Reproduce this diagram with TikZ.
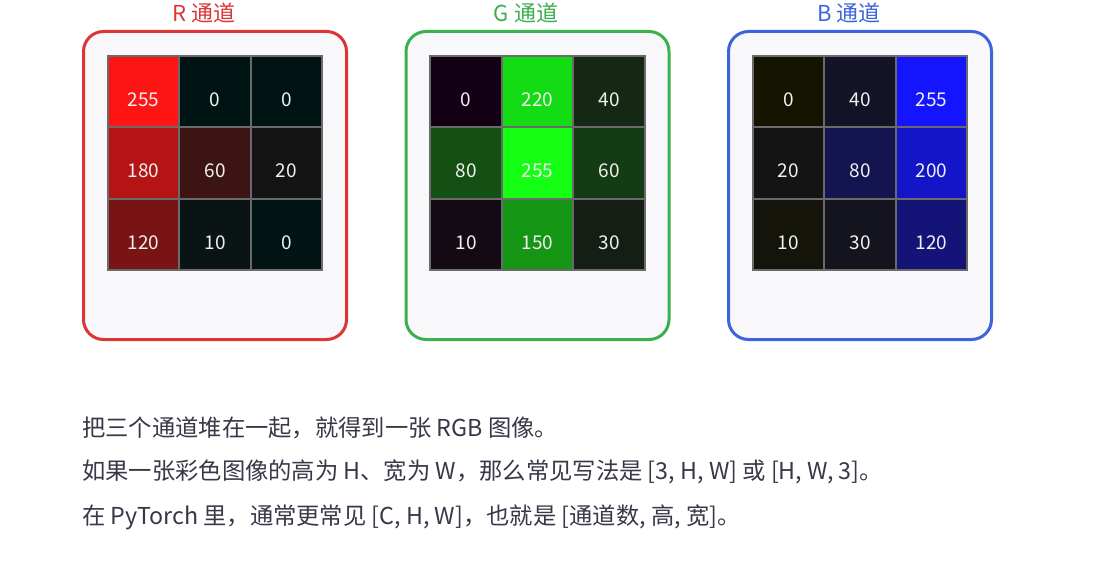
\documentclass[tikz,border=0pt]{standalone}
\usepackage{fontspec}
\setmainfont{Noto Sans CJK SC}
\usepackage{xcolor}
\usepackage{tikz}
\usetikzlibrary{positioning}
\definecolor{rline}{HTML}{DC3535}
\definecolor{gline}{HTML}{3CAF4E}
\definecolor{bline}{HTML}{3C64DC}
\definecolor{panelbg}{HTML}{F8F8FB}
\definecolor{gridline}{HTML}{6A6A6A}
\definecolor{bodytext}{HTML}{383848}
\tikzset{
  panel/.style={rectangle, rounded corners=20pt, line width=3pt, fill=panelbg,
                minimum width=263pt, minimum height=308pt},
  ttl/.style={font=\fontsize{22}{26}\selectfont, inner sep=0pt},
  cell/.style={rectangle, draw=gridline, line width=2pt, inner sep=0pt,
               minimum size=71.5pt, text=white!94!black, text height=30pt, text depth=0pt,
               font=\fontsize{19}{22}\selectfont},
  rcell/.style={cell, fill={rgb,255:red,#1;green,20;blue,20}},
  gcell/.style={cell, fill={rgb,255:red,20;green,#1;blue,20}},
  bcell/.style={cell, fill={rgb,255:red,20;green,20;blue,#1}},
  note/.style={anchor=west, inner sep=0pt, text=bodytext, font=\fontsize{23.3}{27}\selectfont},
}
\begin{document}
\begin{tikzpicture}[x=1pt, y=-1pt]
  \useasboundingbox[fill=white] (0,0) rectangle (1101,588);
  % three channel panels
  \node[panel, draw=rline] (rpanel) at (215,185.5)   {};
  \node[panel, draw=gline] (gpanel) at (537.5,185.5) {};
  \node[panel, draw=bline] (bpanel) at (860,185.5)   {};
  \node[ttl, text=rline] (rtitle) at (204,13)   {R 通道};
  \node[ttl, text=gline] (gtitle) at (526,13)   {G 通道};
  \node[ttl, text=bline] (btitle) at (849,13)   {B 通道};

  % R channel
  \node[rcell=255] (r11) at (143.5,91.5) {255};
  \node[rcell=0]   (r12) at (215,91.5)   {0};
  \node[rcell=0]   (r13) at (286.5,91.5) {0};
  \node[rcell=180] (r21) at (143.5,163)  {180};
  \node[rcell=60]  (r22) at (215,163)    {60};
  \node[rcell=20]  (r23) at (286.5,163)  {20};
  \node[rcell=120] (r31) at (143.5,234.5) {120};
  \node[rcell=10]  (r32) at (215,234.5)   {10};
  \node[rcell=0]   (r33) at (286.5,234.5) {0};

  % G channel
  \node[gcell=0]   (g11) at (466,91.5)  {0};
  \node[gcell=220] (g12) at (537.5,91.5) {220};
  \node[gcell=40]  (g13) at (609,91.5)  {40};
  \node[gcell=80]  (g21) at (466,163)   {80};
  \node[gcell=255] (g22) at (537.5,163) {255};
  \node[gcell=60]  (g23) at (609,163)   {60};
  \node[gcell=10]  (g31) at (466,234.5)   {10};
  \node[gcell=150] (g32) at (537.5,234.5) {150};
  \node[gcell=30]  (g33) at (609,234.5)   {30};

  % B channel
  \node[bcell=0]   (b11) at (788.5,91.5) {0};
  \node[bcell=40]  (b12) at (860,91.5)   {40};
  \node[bcell=255] (b13) at (931.5,91.5) {255};
  \node[bcell=20]  (b21) at (788.5,163)  {20};
  \node[bcell=80]  (b22) at (860,163)    {80};
  \node[bcell=200] (b23) at (931.5,163)  {200};
  \node[bcell=10]  (b31) at (788.5,234.5) {10};
  \node[bcell=30]  (b32) at (860,234.5)   {30};
  \node[bcell=120] (b33) at (931.5,234.5) {120};

  % explanation
  \node[note] (line1) at (82,428) {把三个通道堆在一起，就得到一张 RGB 图像。};
  \node[note] (line2) at (82,472) {如果一张彩色图像的高为 H、宽为 W，那么常见写法是 [3, H, W] 或 [H, W, 3]。};
  \node[note] (line3) at (82,517) {在 PyTorch 里，通常更常见 [C, H, W]，也就是 [通道数, 高, 宽]。};
\end{tikzpicture}
\end{document}
